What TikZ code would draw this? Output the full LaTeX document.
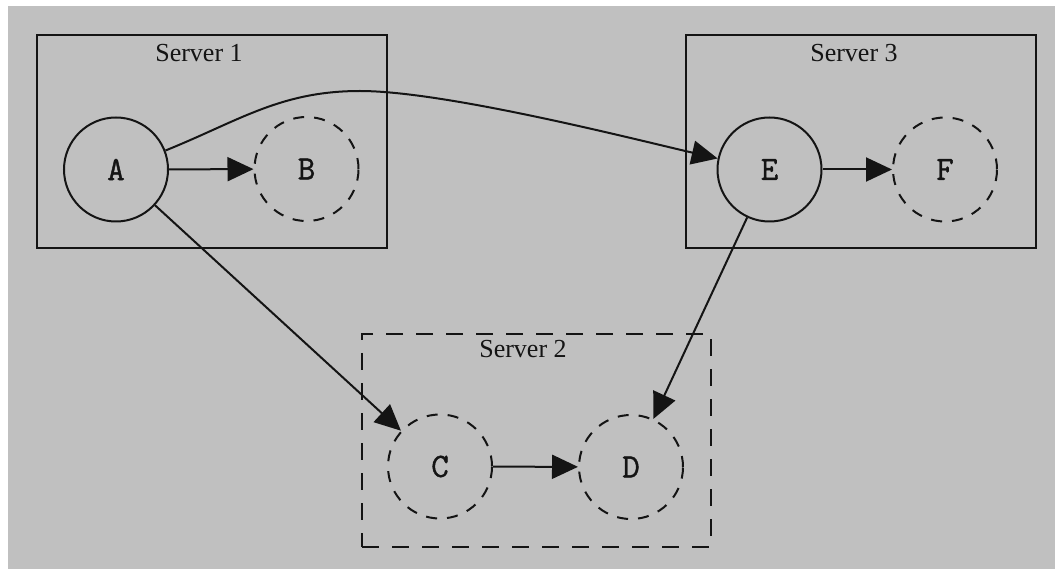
\documentclass[tikz,border=0pt]{standalone}
\usepackage{fontspec}
\newfontfamily\labelfont{Liberation Serif}
\newfontfamily\letterfont[FakeBold=1.2]{Latin Modern Mono}
\usetikzlibrary{arrows.meta}
\definecolor{bgc}{HTML}{C0C0C0}
\definecolor{ink}{HTML}{141414}
\tikzset{
  proc/.style={circle, draw=ink, line width=2pt, minimum size=104pt, inner sep=0pt,
               font=\letterfont\fontsize{34}{36}\selectfont, text=ink},
  ghost/.style={proc, dash pattern=on 11pt off 10pt},
  srv/.style={rectangle, draw=ink, line width=2.6pt, inner sep=0pt},
  srvdash/.style={srv, dash pattern=on 17pt off 13pt},
  srvlabel/.style={anchor=base, inner sep=0pt, font=\labelfont\fontsize{26}{28}\selectfont, text=ink},
  arr/.style={draw=ink, line width=2pt, -{Triangle[length=26pt,width=24pt]}},
}
\begin{document}
\begin{tikzpicture}[x=1pt,y=1pt]
\useasboundingbox (0,0) rectangle (1055,-569);
\fill[bgc] (8,-6) rectangle (1055,-569);
% server boxes
\node[srv, minimum width=350pt, minimum height=213pt] (s1) at (212,-141.5) {};
\node[srv, minimum width=350pt, minimum height=213pt] (s3) at (861,-141.5) {};
\node[srvdash, minimum width=349pt, minimum height=213pt] (s2) at (536.5,-440.5) {};
\node[srvlabel] (l1) at (199,-62) {Server 1};
\node[srvlabel] (l3) at (854,-62) {Server 3};
\node[srvlabel] (l2) at (523,-358) {Server 2};
% processes
\node[proc] (A) at (116,-169.5) {A};
\node[ghost] (B) at (306.5,-169) {B};
\node[proc] (E) at (769.5,-169.5) {E};
\node[ghost] (F) at (945,-169.5) {F};
\node[ghost] (C) at (440,-466.5) {C};
\node[ghost] (D) at (631,-467) {D};
\coordinate (top) at (360,-91);
% connectors
\draw[arr] (A) -- (B);
\draw[arr] (E) -- (F);
\draw[arr] (C) -- (D);
\draw[arr] (A) -- (C);
\draw[arr] (E) -- (D);
\draw[arr] (A.21) to[out=22,in=180] (top) to[out=0,in=167,looseness=0.6] (E.168);
\end{tikzpicture}
\end{document}
